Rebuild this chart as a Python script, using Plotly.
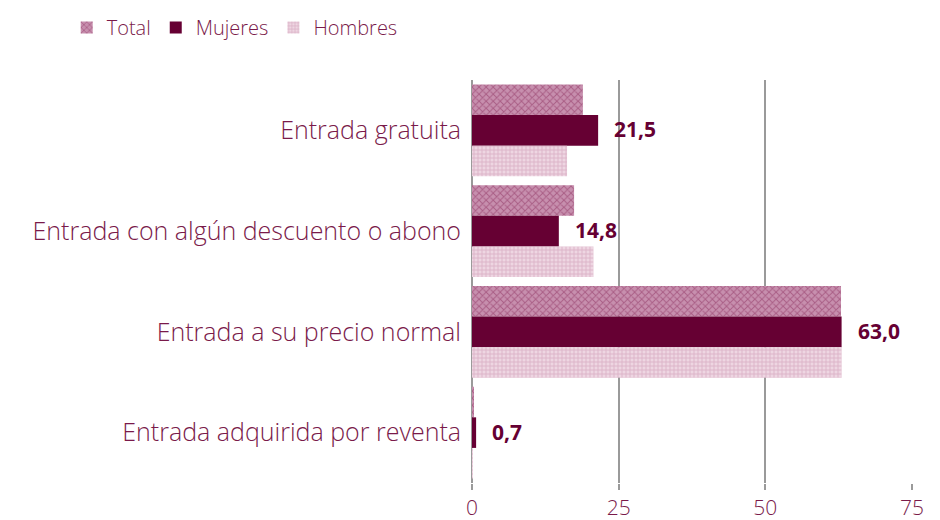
import plotly.graph_objects as go

categories = ["Entrada gratuita", "Entrada con algún descuento o abono",
              "Entrada a su precio normal", "Entrada adquirida por reventa"]
total = [18.9, 17.4, 62.9, 0.3]
mujeres = [21.5, 14.8, 63.0, 0.7]
hombres = [16.2, 20.7, 63.0, 0.1]
tick_vals = [0, 25, 50, 75]

label_color = "#7a1a4a"
dark = "#660033"
FONT = "Open Sans"

fig = go.Figure()
fig.add_trace(go.Bar(
    name="Total", y=categories, x=total, orientation="h",
    marker=dict(color="#b7789a", line=dict(width=0),
                pattern=dict(shape="x", fgcolor="#8a2c5c", bgcolor="#c78fae", size=5, solidity=0.35)),
))
fig.add_trace(go.Bar(
    name="Mujeres", y=categories, x=mujeres, orientation="h",
    marker=dict(color=dark, line=dict(width=0)),
))
fig.add_trace(go.Bar(
    name="Hombres", y=categories, x=hombres, orientation="h",
    marker=dict(color="#e3c1d2", line=dict(width=0),
                pattern=dict(shape="+", fgcolor="#c890ad", bgcolor="#eed6e2", size=4, solidity=0.4)),
))

for c, v in zip(categories, mujeres):
    fig.add_annotation(x=v, y=c, text=f"<b>{v:.1f}".replace(".", ",") + "</b>",
                       showarrow=False, xanchor="left", xshift=14, yshift=1,
                       font=dict(family=FONT, size=21, color=dark))

# page body has an 8px margin: figure drawn at (8, 8)
fig.update_layout(
    width=932, height=512,
    barmode="group", bargap=0.09, bargroupgap=0,
    plot_bgcolor="white", paper_bgcolor="white",
    margin=dict(l=464, r=28, t=72, b=37, autoexpand=False),
    font=dict(family=FONT, color=label_color),
    legend=dict(orientation="h", xref="container", yref="container",
                x=0.063, xanchor="left", y=1.0, yanchor="top",
                font=dict(size=20, color=label_color, family=FONT, weight=300),
                traceorder="normal", itemwidth=30),
    showlegend=True,
)
fig.update_xaxes(range=[0, 75], tickvals=tick_vals, showgrid=True, gridcolor="#9a9a9a",
                 gridwidth=2, zeroline=True, zerolinecolor="#9a9a9a", zerolinewidth=2,
                 ticks="outside", ticklen=6, tickcolor="#9a9a9a", tickwidth=2,
                 tickfont=dict(size=21, color=label_color, family=FONT, weight=300),
                 showline=False, automargin=False)
fig.update_yaxes(autorange="reversed",
                 tickfont=dict(size=25, color=label_color, family=FONT, weight=300),
                 ticks="", ticklabelstandoff=10, showline=False, automargin=False)

fig.write_html("out.html")
